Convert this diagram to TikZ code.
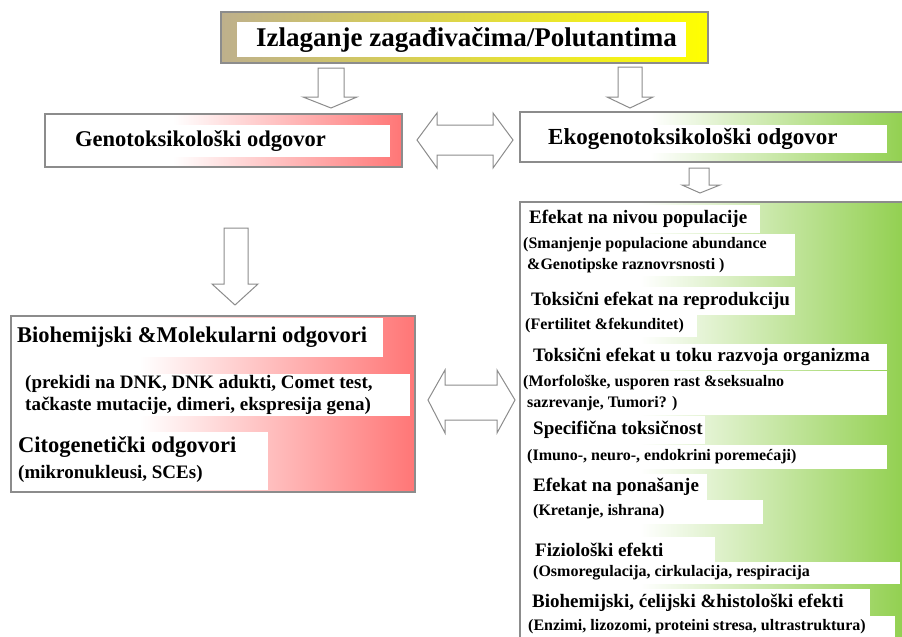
\documentclass[tikz,border=0pt]{standalone}
\usepackage{fontspec}
\setmainfont{Liberation Serif}
\definecolor{bord}{RGB}{140,140,140}
\definecolor{pinkr}{RGB}{255,118,118}
\definecolor{grn}{RGB}{146,208,80}
\definecolor{tanc}{RGB}{190,176,140}
\definecolor{cream}{RGB}{255,250,228}
\definecolor{yel}{RGB}{255,255,0}
\begin{document}
\begin{tikzpicture}[x=1pt,y=-1pt,
  boxline/.style={draw=bord, line width=1.6pt},
  barrow/.style={draw=bord, fill=white, line width=1pt, line join=miter},
  txt/.style={anchor=west, inner sep=0pt, align=left},
  hbig/.style={txt, font=\fontsize{22.5}{26}\selectfont\bfseries},
  hmid/.style={txt, font=\fontsize{19}{23}\selectfont\bfseries},
  sbig/.style={txt, font=\fontsize{19}{22}\selectfont\bfseries},
  ssmall/.style={txt, font=\fontsize{16}{21}\selectfont\bfseries}]
\useasboundingbox (0,0) rectangle (902,637);
\fill[white] (0,0) rectangle (902,637);

% ---- top box
\shade[left color=tanc, middle color=cream, right color=yel] (221,12) rectangle (708,63);
\draw[boxline] (221,12) rectangle (708,63);
\fill[white] (237,22) rectangle (686,57);
\node[txt, font=\fontsize{27}{30}\selectfont\bfseries] (title) at (256,39.5) {Izlaganje zagađivačima/Polutantima};

% ---- genotox box
\fill[white] (45,114) rectangle (402,167);
\shade[left color=white, right color=pinkr] (173,114) rectangle (402,167);
\draw[boxline] (45,114) rectangle (402,167);
\fill[white] (48,125) rectangle (390,157);
\node[hbig] (geno) at (75,141) {Genotoksikološki odgovor};

% ---- ekogenotox box
\fill[white] (520,112) rectangle (904,162);
\shade[left color=white, right color=grn] (650,112) rectangle (904,162);
\draw[boxline] (520,112) rectangle (904,162);
\fill[white] (521,125) rectangle (887,153);
\node[txt, font=\fontsize{23}{26}\selectfont\bfseries] (eko) at (548,139) {Ekogenotoksikološki odgovor};

% ---- left big box
\fill[white] (11,316) rectangle (415,492);
\shade[left color=white, right color=pinkr] (140,316) rectangle (415,492);
\draw[boxline] (11,316) rectangle (415,492);
\fill[white] (12,318) rectangle (383,357);
\fill[white] (20,374) rectangle (410,416);
\fill[white] (12,432) rectangle (268,490);
\node[hbig] (bm) at (17,337) {Biohemijski \&Molekularni odgovori};
\node[sbig] (bmd) at (25,395) {(prekidi na DNK, DNK adukti, Comet test,\\tačkaste mutacije, dimeri, ekspresija gena)};
\node[hbig] (cg) at (18,447) {Citogenetički odgovori};
\node[sbig] (cgd) at (18,474) {(mikronukleusi, SCEs)};

% ---- right big box
\fill[white] (520,202) rectangle (904,640);
\shade[left color=white, right color=grn] (640,202) rectangle (904,640);
\draw[boxline] (520,202) rectangle (904,640);
\foreach \a/\b/\c in {205/760/233, 234/795/276, 287/795/315, 315/697/337,
  344/887/370, 371/887/415, 416/705/444, 445/887/469, 474/707/500,
  500/763/524, 537/715/563, 562/900/584, 589/870/617, 616/895/638}
  \fill[white] (521,\a) rectangle (\b,\c);
\node[hmid] (r1) at (529,219) {Efekat na nivou populacije};
\node[ssmall] (r2) at (523,255) {(Smanjenje populacione abundance\\\hspace*{4pt}\&Genotipske raznovrsnosti )};
\node[hmid] (r3) at (531,301) {Toksični efekat na reprodukciju};
\node[ssmall] (r4) at (525,326) {(Fertilitet \&fekunditet)};
\node[hmid] (r5) at (533,357) {Toksični efekat u toku razvoja organizma};
\node[ssmall] (r6) at (523,393) {(Morfološke, usporen rast \&seksualno\\\hspace*{4pt}sazrevanje, Tumori? )};
\node[hmid] (r7) at (533,430) {Specifična toksičnost};
\node[ssmall] (r8) at (527,457) {(Imuno-, neuro-, endokrini poremećaji)};
\node[hmid] (r9) at (533,487) {Efekat na ponašanje};
\node[ssmall] (r10) at (533,512) {(Kretanje, ishrana)};
\node[hmid] (r11) at (535,550) {Fiziološki efekti};
\node[ssmall] (r12) at (533,573) {(Osmoregulacija, cirkulacija, respiracija};
\node[hmid] (r13) at (532,603) {Biohemijski, ćelijski \&histološki efekti};
\node[ssmall] (r14) at (528,627) {(Enzimi, lizozomi, proteini stresa, ultrastruktura)};

% ---- block arrows
\draw[barrow] (318,68) -- (344,68) -- (344,97) -- (357,97) -- (331,108) -- (303,97) -- (318,97) -- cycle;
\draw[barrow] (618,67) -- (642,67) -- (642,97) -- (653,97) -- (630,108) -- (607,97) -- (618,97) -- cycle;
\draw[barrow] (689,168) -- (709,168) -- (709,185) -- (720,185) -- (700,193) -- (682,185) -- (689,185) -- cycle;
\draw[barrow] (224,228) -- (248,228) -- (248,284) -- (258,284) -- (235,305) -- (212,284) -- (224,284) -- cycle;
\draw[barrow] (417,140) -- (437,113) -- (437,125) -- (493,125) -- (493,113) -- (513,140) -- (493,168) -- (493,155) -- (437,155) -- (437,168) -- cycle;
\draw[barrow] (428,400) -- (445,370) -- (445,385) -- (497,385) -- (497,370) -- (515,400) -- (497,433) -- (497,420) -- (445,420) -- (445,433) -- cycle;
\end{tikzpicture}
\end{document}
